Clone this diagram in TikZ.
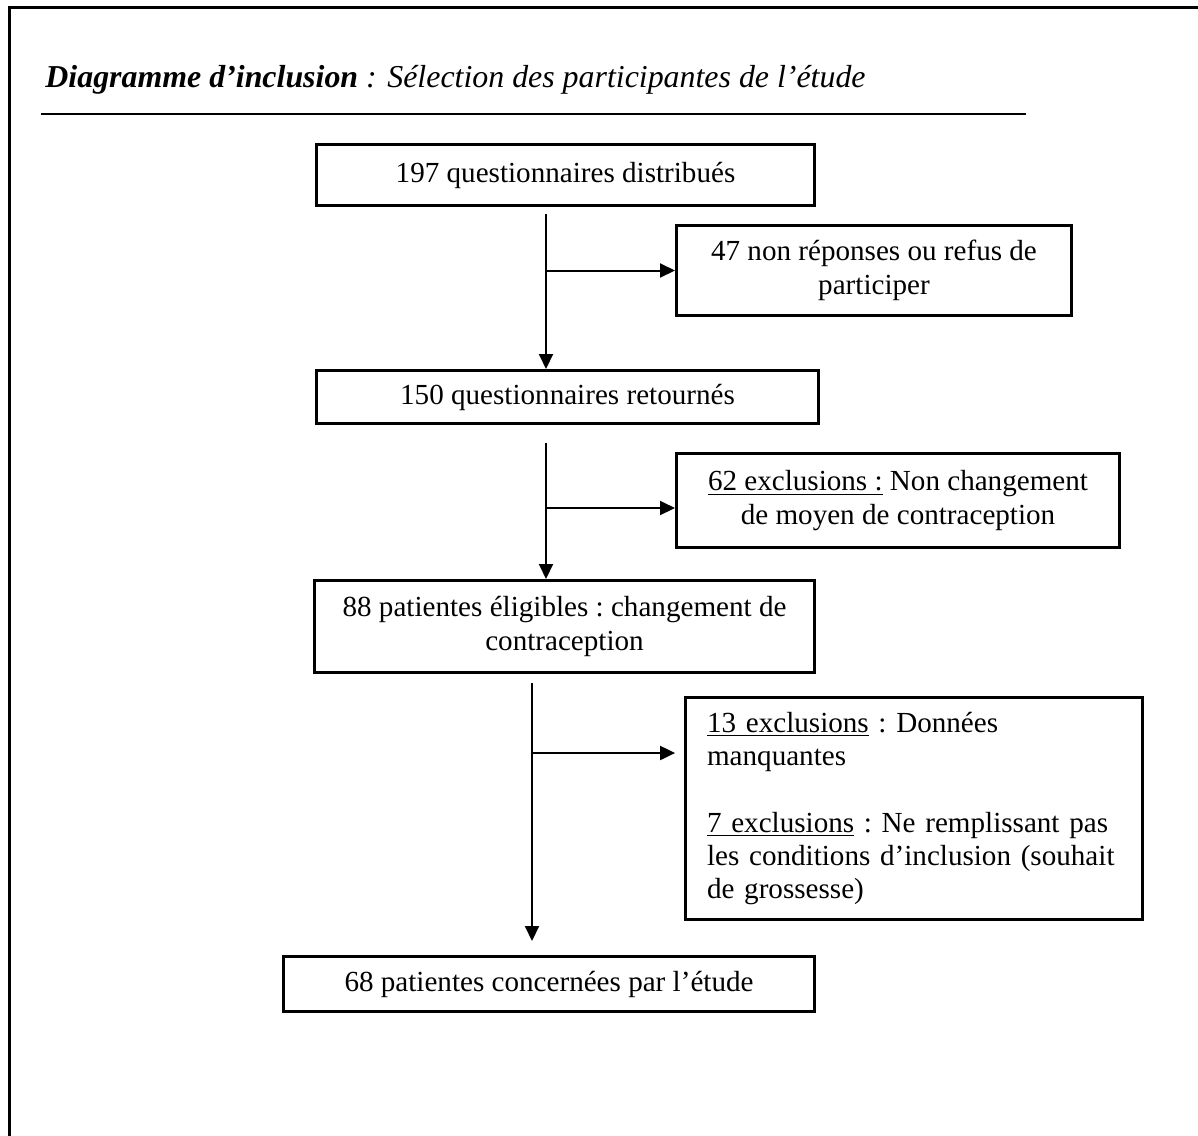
\documentclass[tikz,border=0pt]{standalone}
\usepackage{fontspec}
\setmainfont{Liberation Serif}
\usetikzlibrary{arrows.meta}

\begin{document}
\begin{tikzpicture}[x=0.45pt, y=-0.45pt,
    every node/.style={font=\fontsize{13.1}{15}\selectfont\frenchspacing},
    box/.style={draw, line width=1.35pt, inner sep=0pt, align=center},
    arr/.style={-{Triangle[length=6.75pt, width=6.3pt]}, line width=0.9pt}]
    \useasboundingbox (0,0) rectangle (1198,1135);
    % cadre et titre
    \draw[line width=1.35pt] (9,1140) -- (9,7) -- (1205,7);
    \node[anchor=base west, inner sep=0pt, font=\fontsize{14.35}{17}\selectfont\itshape] (titre) at (45,87) {\textbf{Diagramme d’inclusion} : Sélection des participantes de l’étude};
    \draw[line width=0.9pt] (41,114) -- (1026,114);
    % boites
    \node[box, minimum width=224.1pt, minimum height=27.45pt] (distrib) at (565.5,175) {197 questionnaires distribués};
    \node[box, minimum width=177.75pt, minimum height=40.5pt] (refus) at (874,270.5) {47 non réponses ou refus de\\participer};
    \node[box, minimum width=225.9pt, minimum height=23.85pt] (retour) at (567.5,397) {150 questionnaires retournés};
    \node[box, minimum width=199.35pt, minimum height=42.3pt] (exclua) at (898,500.5) {\underline{62 exclusions :} Non changement\\de moyen de contraception};
    \node[box, minimum width=225pt, minimum height=41.4pt] (eligib) at (564.5,626.5) {88 patientes éligibles : changement de\\contraception};
    \node[box, text width=186.25pt, inner xsep=9.7pt, minimum height=99.9pt, align=left] (exclub) at (914,808.5) {\underline{13 exclusions} : Données\\manquantes\\[15pt]\underline{7 exclusions} : Ne remplissant pas\\les conditions d’inclusion (souhait\\de grossesse)};
    \node[box, minimum width=238.95pt, minimum height=24.75pt] (etude) at (549,984) {68 patientes concernées par l’étude};
    % fleches
    \coordinate (pa) at (546,214);
    \coordinate (pb) at (546,443);
    \coordinate (kb) at (546,508);
    \coordinate (pc) at (532,683);
    \coordinate (kc) at (532,753);
    \coordinate (ec) at (532,941);
    \draw[arr] (pa) -- (pa |- retour.north);
    \draw[arr] (pa |- refus.west) -- (refus.west);
    \draw[arr] (pb) -- (pb |- eligib.north);
    \draw[arr] (kb) -- (kb -| exclua.west);
    \draw[arr] (pc) -- (ec);
    \draw[arr, shorten >=4pt] (kc) -- (kc -| exclub.west);
\end{tikzpicture}
\end{document}
